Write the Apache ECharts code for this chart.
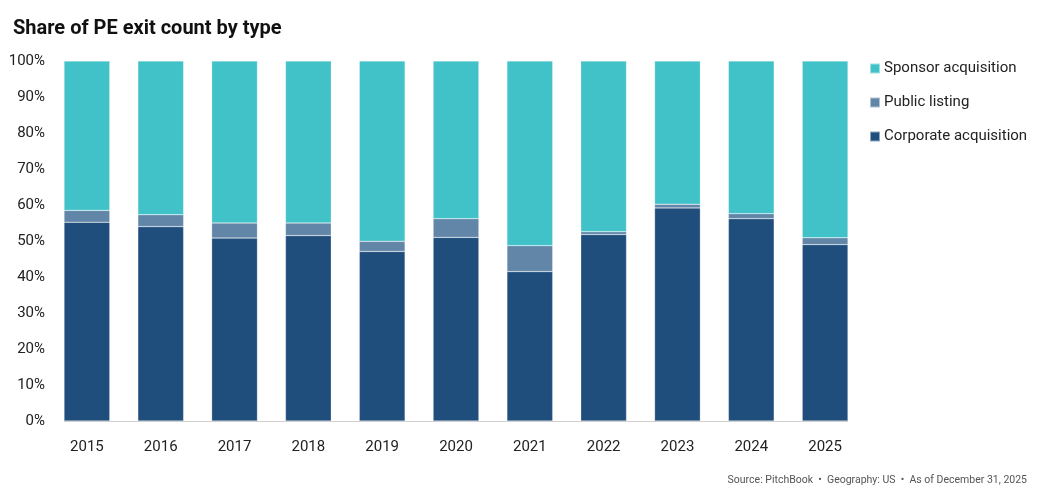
<!DOCTYPE html>
<html>
<head>
<meta charset="utf-8">
<script src="https://cdn.jsdelivr.net/npm/echarts@6/dist/echarts.min.js"></script>
<style>
html,body{margin:0;padding:0;background:#fff;}
#c{width:1040px;height:498px;}
</style>
</head>
<body>
<div id="c"></div>
<script>
const years = ['2015','2016','2017','2018','2019','2020','2021','2022','2023','2024','2025'];
const corporate = [55.2, 54.0, 50.8, 51.5, 47.1, 51.0, 41.5, 51.8, 59.2, 56.2, 49.0];
const publicListing = [3.3, 3.3, 4.2, 3.5, 2.8, 5.2, 7.2, 0.8, 1.0, 1.4, 1.9];
const sponsor = [41.5, 42.7, 45.0, 45.0, 50.1, 43.8, 51.3, 47.4, 39.8, 42.4, 49.1];
const yTicks = [0, 10, 20, 30, 40, 50, 60, 70, 80, 90, 100];

const FONT = 'Roboto';
const chart = echarts.init(document.getElementById('c'), null, {renderer: 'canvas'});
const border = {borderColor: 'rgba(255,255,255,0.5)', borderWidth: 0.5};
const gapPct = 38;
const option = {
  backgroundColor: '#fff',
  animation: false,
  textStyle: {fontFamily: FONT},
  title: {
    text: 'Share of PE exit count by type',
    left: 8, top: 14,
    textStyle: {fontFamily: FONT, fontSize: 20, fontWeight: 'bold', color: '#111'}
  },
  legend: {
    orient: 'vertical',
    left: 864, top: 56,
    itemWidth: 10, itemHeight: 10, itemGap: 19,
    icon: 'rect',
    data: ['Sponsor acquisition', 'Public listing', 'Corporate acquisition'],
    textStyle: {fontFamily: FONT, fontSize: 15, color: '#222', padding: [0, 0, 0, -1]}
  },
  grid: {left: 50, right: 178, top: 61, bottom: 77},
  xAxis: {
    type: 'category',
    data: years,
    axisLine: {show: false},
    axisTick: {show: false},
    axisLabel: {fontFamily: FONT, fontSize: 15, color: '#222', margin: 19}
  },
  yAxis: {
    type: 'value',
    min: 0, max: 100, interval: 10,
    splitLine: {show: false},
    axisLine: {show: false},
    axisTick: {show: false},
    axisLabel: {fontFamily: FONT, fontSize: 15, color: '#222', margin: 5,
      formatter: v => yTicks.includes(v) ? v + '%' : ''}
  },
  series: [
    {name: 'Corporate acquisition', type: 'bar', stack: 'a', data: corporate,
     barCategoryGap: gapPct + '%', itemStyle: Object.assign({color: '#1F4E7D'}, border)},
    {name: 'Public listing', type: 'bar', stack: 'a', data: publicListing,
     itemStyle: Object.assign({color: '#6286A8'}, border)},
    {name: 'Sponsor acquisition', type: 'bar', stack: 'a', data: sponsor,
     itemStyle: Object.assign({color: '#41C2C9'}, border)}
  ],
  graphic: [{
    type: 'text', right: 13, top: 475,
    style: {text: 'Source: PitchBook  •  Geography: US  •  As of December 31, 2025',
      fontFamily: FONT, fontSize: 10.5, fill: '#555'}
  }]
};
chart.setOption(option);
// baseline from first bar's left edge to last bar's right edge (via library scale)
const p0 = chart.convertToPixel({xAxisIndex: 0, yAxisIndex: 0}, [0, 0]);
const pN = chart.convertToPixel({xAxisIndex: 0, yAxisIndex: 0}, [years.length - 1, 0]);
const band = (pN[0] - p0[0]) / (years.length - 1);
const half = band * (1 - gapPct / 100) / 2;
chart.setOption({graphic: [option.graphic[0], {
  type: 'line', z: 10,
  shape: {x1: p0[0] - half, y1: p0[1] + 0.5, x2: pN[0] + half, y2: p0[1] + 0.5},
  style: {stroke: '#d0d0d0', lineWidth: 1}
}]});
</script>
</body>
</html>
